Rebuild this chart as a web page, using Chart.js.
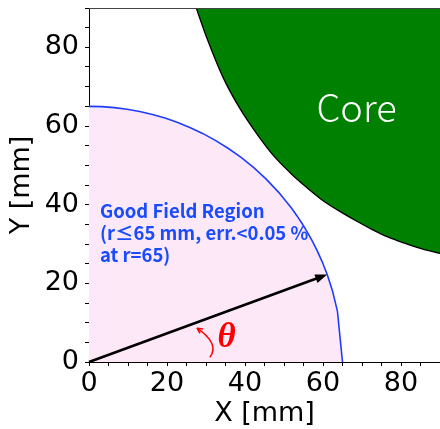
<!DOCTYPE html>
<html>
<head>
<meta charset="utf-8">
<script src="https://cdn.jsdelivr.net/npm/chart.js@4.4.0/dist/chart.umd.min.js"></script>
<style>
html,body{margin:0;padding:0;background:#fff;}
#wrap{width:440px;height:429px;position:relative;}
</style>
</head>
<body>
<div id="wrap"><canvas id="c"></canvas></div>
<script>
// Good field region boundary (r = 65 mm)
const gfrX = [0, 3.25, 6.5, 9.75, 13, 16.25, 19.5, 22.75, 26, 29.25, 32.5, 35.75, 39, 42.25, 45.5, 48.75, 52, 53.3, 54.6, 55.9, 57.2, 58.5, 59.8, 61.1, 62.4, 63.7, 65];
const gfrY = [65, 64.92, 64.67, 64.26, 63.69, 62.94, 62.01, 60.89, 59.57, 58.05, 56.29, 54.28, 52, 49.4, 46.42, 43.0, 39, 37.2, 35.27, 33.17, 30.87, 28.33, 25.47, 22.18, 18.2, 12.93, 0];
// Core (pole) boundary
const coreX = [27.5, 30.1, 34.4, 38.6, 42.9, 47.2, 51.5, 55.3, 59.5, 63.8, 68.1, 72.4, 76.6, 80.9, 85.2, 90];
const coreY = [90, 82.7, 72.3, 64.6, 58.2, 52.6, 48.2, 44.8, 41.4, 38.6, 36.1, 33.8, 31.8, 30.2, 28.8, 27.6];
// tick labels
const xTickLabels = [0, 20, 40, 60, 80];
const yTickLabels = [0, 20, 40, 60, 80];
// annotations (data units)
const arrowEnd = [61.08, 22.23];
const coreLabel = {text: 'Core', x: 68.6, y: 64.8};
const gfrLines = ['Good Field Region', '(r≤65 mm, err.<0.05 %', 'at r=65)'];
const gfrTextPos = {x: 2.8, y: [36.7, 30.9, 25.3]};
const thetaLabel = {text: 'θ', x: 35.3, y: 6.0};
const thetaArc = {p0: [31.0, 1.2], c: [33.6, 4.6], p2: [27.7, 8.6]};

function pts(xs, ys){ return xs.map((x,i)=>({x:x, y:ys[i]})); }

const annot = {
  id: 'annot',
  afterDatasetsDraw(chart){
    const ctx = chart.ctx, xs = chart.scales.x, ys = chart.scales.y, a = chart.chartArea;
    const px = v => xs.getPixelForValue(v), py = v => ys.getPixelForValue(v);
    ctx.save();
    // top spine
    ctx.strokeStyle = '#444'; ctx.lineWidth = 1;
    ctx.beginPath(); ctx.moveTo(a.left, a.top + 0.5); ctx.lineTo(a.right, a.top + 0.5); ctx.stroke();
    // black arrow
    const x0 = px(0), y0 = py(0), x1 = px(arrowEnd[0]), y1 = py(arrowEnd[1]);
    const ang = Math.atan2(y1 - y0, x1 - x0);
    const hl = 12, hw = 4.5;
    const bx = x1 - hl*Math.cos(ang), by = y1 - hl*Math.sin(ang);
    ctx.strokeStyle = '#000'; ctx.lineWidth = 2.6; ctx.lineCap = 'butt';
    ctx.beginPath(); ctx.moveTo(x0, y0); ctx.lineTo(bx + 2*Math.cos(ang), by + 2*Math.sin(ang)); ctx.stroke();
    ctx.fillStyle = '#000';
    ctx.beginPath();
    ctx.moveTo(x1, y1);
    ctx.lineTo(bx + hw*Math.sin(ang), by - hw*Math.cos(ang));
    ctx.lineTo(bx - hw*Math.sin(ang), by + hw*Math.cos(ang));
    ctx.closePath(); ctx.fill();
    // red curved arrow
    const P0 = [px(thetaArc.p0[0]), py(thetaArc.p0[1])], C = [px(thetaArc.c[0]), py(thetaArc.c[1])], P2 = [px(thetaArc.p2[0]), py(thetaArc.p2[1])];
    ctx.strokeStyle = '#ff0000'; ctx.lineWidth = 1.5;
    ctx.beginPath(); ctx.moveTo(P0[0], P0[1]); ctx.quadraticCurveTo(C[0], C[1], P2[0], P2[1]); ctx.stroke();
    const ra = Math.atan2(P2[1]-C[1], P2[0]-C[0]);
    ctx.beginPath();
    ctx.moveTo(P2[0], P2[1]);
    ctx.lineTo(P2[0] - 6*Math.cos(ra - 0.45), P2[1] - 6*Math.sin(ra - 0.45));
    ctx.moveTo(P2[0], P2[1]);
    ctx.lineTo(P2[0] - 6*Math.cos(ra + 0.45), P2[1] - 6*Math.sin(ra + 0.45));
    ctx.stroke();
    // theta
    ctx.fillStyle = '#ff0000';
    ctx.font = 'italic bold 35px "Liberation Serif", "DejaVu Serif", serif';
    ctx.textAlign = 'center'; ctx.textBaseline = 'middle';
    ctx.fillText(thetaLabel.text, px(thetaLabel.x), py(thetaLabel.y));
    // Core label
    ctx.fillStyle = '#ffffff';
    ctx.font = '300 38px "Noto Sans CJK JP", "Noto Sans", sans-serif';
    ctx.fillText(coreLabel.text, px(coreLabel.x), py(coreLabel.y));
    // GFR text
    ctx.fillStyle = '#1a4cff';
    ctx.font = 'bold 18.5px "Noto Sans CJK JP", "Noto Sans", sans-serif';
    ctx.textAlign = 'left'; ctx.textBaseline = 'alphabetic';
    gfrLines.forEach((t,i)=> ctx.fillText(t, px(gfrTextPos.x), py(gfrTextPos.y[i])));
    // axis titles
    ctx.fillStyle = '#000';
    ctx.font = '27px "DejaVu Sans", sans-serif';
    ctx.textAlign = 'center'; ctx.textBaseline = 'middle';
    ctx.fillText('X [mm]', (a.left + a.right)/2, 414);
    ctx.translate(22, (a.top + a.bottom)/2);
    ctx.rotate(-Math.PI/2);
    ctx.fillText('Y [mm]', 0, 0);
    ctx.restore();
  }
};

const tickFont = {family: 'DejaVu Sans', size: 27};
const labelCb = list => v => list.includes(v) ? String(v) : '';

new Chart(document.getElementById('c'), {
  type: 'scatter',
  data: {
    datasets: [
      {
        data: pts(coreX, coreY), showLine: true, pointRadius: 0,
        borderColor: '#000', borderWidth: 1.3, backgroundColor: '#008000', fill: 'end',
        cubicInterpolationMode: 'monotone'
      },
      {
        data: pts(gfrX, gfrY), showLine: true, pointRadius: 0,
        borderColor: '#1f3dff', borderWidth: 1.6, backgroundColor: '#fde8f8', fill: 'origin', tension: 0
      }
    ]
  },
  options: {
    responsive: true, maintainAspectRatio: false, animation: false,
    layout: {padding: {top: 8, right: 0, left: 0, bottom: 0}},
    plugins: {legend: {display: false}, tooltip: {enabled: false}},
    scales: {
      x: {
        type: 'linear', min: 0, max: 90,
        afterFit(s){ s.height = 67; s.paddingLeft = 0; s.paddingRight = 0; },
        grid: {drawOnChartArea: false, tickLength: 4, tickColor: '#000'},
        border: {color: '#000', width: 1},
        ticks: {stepSize: 5, autoSkip: false, maxRotation: 0, color: '#000', font: tickFont, padding: 2, callback: labelCb(xTickLabels)}
      },
      y: {
        type: 'linear', min: 0, max: 90,
        afterFit(s){ s.width = 89; s.paddingTop = 0; s.paddingBottom = 0; },
        grid: {drawOnChartArea: false, tickLength: 4, tickColor: '#000'},
        border: {color: '#000', width: 1},
        ticks: {stepSize: 5, autoSkip: false, color: '#000', font: tickFont, padding: 6, callback: labelCb(yTickLabels)}
      }
    }
  },
  plugins: [annot]
});
</script>
</body>
</html>
